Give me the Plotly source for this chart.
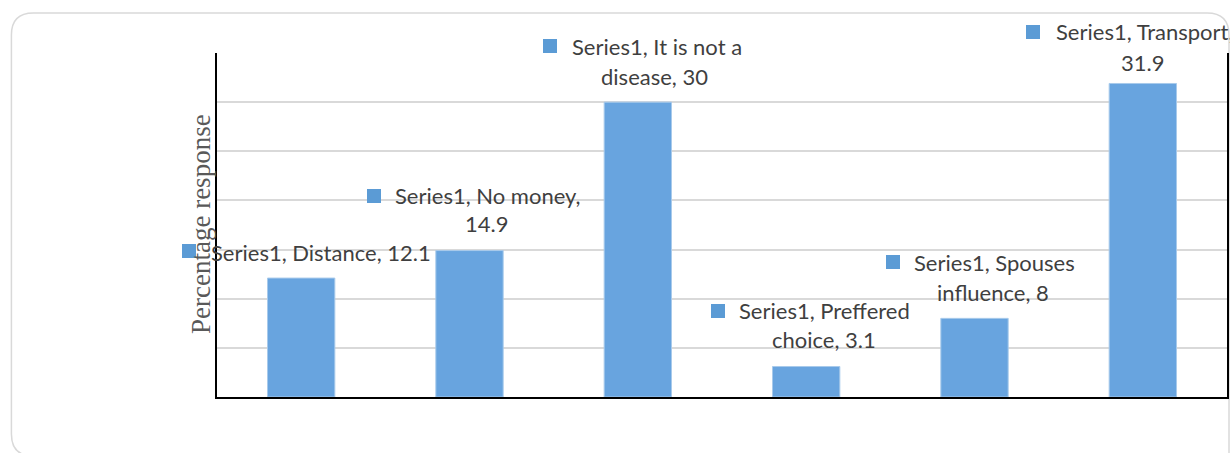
import plotly.graph_objects as go

# Survey data
categories = ["Distance", "No money", "It is not a disease",
              "Preffered choice", "Spouses influence", "Transport"]
values = [12.1, 14.9, 30, 3.1, 8, 31.9]
series_name = "Series1"
# number of words kept on the first line of each data label
first_line_words = [4, 3, 5, 2, 2, 2]
y_title = "Percentage response"

# Label placement (pixel offsets from the top-centre of each bar)
label_pos = [
    dict(l1=(-92, 26), l2=None, key=(-119, 34)),
    dict(l1=(-77, 55), l2=(17, 27), key=(-103, 62)),
    dict(l1=(-68, 56), l2=(17, 26), key=(-95, 63)),
    dict(l1=(-69, 56), l2=(18, 27), key=(-95, 63)),
    dict(l1=(-63, 56), l2=(18, 26), key=(-89, 63)),
    dict(l1=(-89, 52), l2=(0, 21), key=(-117, 58)),
]

W, H = 1230, 453
L, R, T, B = 217, 1, 53, 56
plot_w, plot_h = W - L - R, H - T - B
Y_MAX = 35

BAR = "#68A4DF"
KEY = "#5B9BD5"
TXT = "#3F3F3F"
FONT = "Lato"
FS = 22

fig = go.Figure(go.Bar(
    x=categories, y=values,
    marker=dict(color=BAR, line=dict(color="#A8CAEB", width=1)),
    hoverinfo="x+y",
))


def px_to_paper(px, py):
    return (px - L) / plot_w, (H - B - py) / plot_h


annotations = []
shapes = []
for i, (cat, v) in enumerate(zip(categories, values)):
    words = f"{series_name}, {cat}, {v:g}".split(" ")
    n = first_line_words[i]
    line1 = " ".join(words[:n])
    line2 = " ".join(words[n:])
    pos = label_pos[i]
    annotations.append(dict(
        x=i, y=v, xref="x", yref="y", text=line1, showarrow=False,
        xanchor="left", yanchor="middle",
        xshift=pos["l1"][0], yshift=pos["l1"][1],
        font=dict(family=FONT, size=FS, color=TXT)))
    if line2:
        annotations.append(dict(
            x=i, y=v, xref="x", yref="y", text=line2, showarrow=False,
            xanchor="center", yanchor="middle",
            xshift=pos["l2"][0], yshift=pos["l2"][1],
            font=dict(family=FONT, size=FS, color=TXT)))
    # legend key square beside the label
    kx, ky = pos["key"]
    annotations.append(dict(
        x=i, y=v, xref="x", yref="y", text=" ", showarrow=False,
        xanchor="left", yanchor="top", xshift=kx, yshift=ky,
        width=14, height=14, bgcolor=KEY, borderpad=0, borderwidth=0,
        font=dict(size=4)))

# Axis title
tx, ty = px_to_paper(201, 224)
annotations.append(dict(
    x=tx, y=ty, xref="paper", yref="paper", text=y_title, showarrow=False,
    textangle=-90, xanchor="center", yanchor="middle",
    font=dict(family="Liberation Serif", size=27, color="#595959")))

# Rounded chart frame
pts = [(1231, 470), (1231, 35), (1231, 13), (1209, 13), (33, 13), (11, 13),
       (11, 35), (11, 434), (11, 456), (33, 456), (1245, 456)]
pp = [px_to_paper(*p) for p in pts]
path = (f"M {pp[0][0]},{pp[0][1]} L {pp[1][0]},{pp[1][1]} "
        f"Q {pp[2][0]},{pp[2][1]} {pp[3][0]},{pp[3][1]} "
        f"L {pp[4][0]},{pp[4][1]} "
        f"Q {pp[5][0]},{pp[5][1]} {pp[6][0]},{pp[6][1]} "
        f"L {pp[7][0]},{pp[7][1]} "
        f"Q {pp[8][0]},{pp[8][1]} {pp[9][0]},{pp[9][1]} "
        f"L {pp[10][0]},{pp[10][1]}")
shapes.append(dict(type="path", xref="paper", yref="paper", path=path,
                   line=dict(color="#D9D9D9", width=1.5), layer="below"))

fig.update_layout(
    width=W, height=H,
    margin=dict(l=L, r=R, t=T, b=B),
    paper_bgcolor="white", plot_bgcolor="white",
    bargap=0.6, showlegend=False,
    annotations=annotations, shapes=shapes,
    xaxis=dict(range=[-0.5, len(categories) - 0.5],
               showticklabels=False, ticks="", showgrid=False,
               showline=True, linecolor="black", linewidth=2, zeroline=False),
    yaxis=dict(range=[0, Y_MAX], dtick=5, showticklabels=False, ticks="",
               showgrid=True, gridcolor="#D9D9D9", gridwidth=2,
               showline=True, mirror=True, linecolor="black", linewidth=2,
               zeroline=False),
)

fig.write_html("out.html")
